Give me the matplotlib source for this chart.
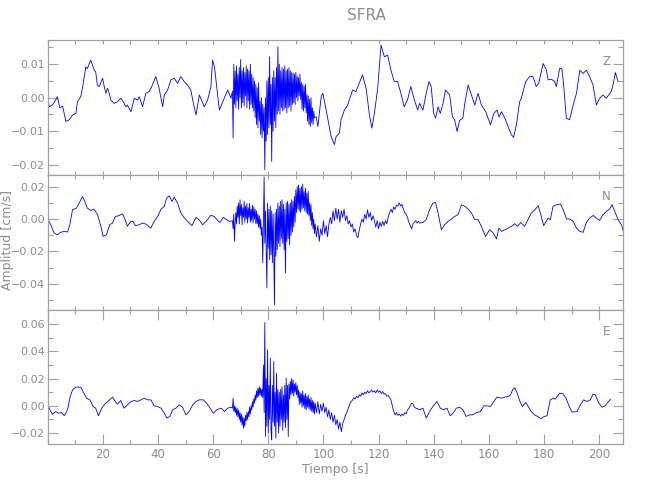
import numpy as np
import matplotlib
matplotlib.use("Agg")
from matplotlib import pyplot as plt
from matplotlib.ticker import MultipleLocator, FuncFormatter

# ---- Z component (cm/s) ----
z_pre_t = [0.0, 0.5, 1.7, 2.9, 3.5, 4.4, 5.4, 6.6, 7.8, 9.0, 10.2, 10.8, 12.0, 12.6, 13.8, 14.4,
           15.6, 16.9, 17.4, 18.0, 18.7, 19.9, 20.5, 21.1, 21.7, 22.3, 22.9, 24.1, 25.3, 26.5,
           27.4, 28.3, 28.9, 30.2, 31.4, 32.6, 33.2, 34.4, 35.6, 36.8, 38.0, 39.2, 40.4, 41.7,
           42.3, 43.5, 44.7, 45.9, 47.1, 48.3, 49.5, 50.7, 51.9, 52.6, 53.8, 55.0, 56.8, 58.0,
           59.2, 59.8, 60.5, 61.7, 62.3, 63.5, 65.3, 66.5]
z_pre = [0.0003, -0.0027, -0.0022, -0.0007, 0.0003, -0.0030, -0.0025, -0.0071, -0.0066, -0.0052,
         -0.0047, -0.0012, 0.0003, 0.0028, 0.0092, 0.0087, 0.0112, 0.0082, 0.0077, 0.0038, 0.0033,
         0.0058, 0.0033, 0.0013, 0.0028, 0.0013, -0.0007, -0.0017, -0.0012, -0.0002, -0.0012,
         -0.0027, -0.0022, -0.0042, -0.0002, -0.0007, 0.0003, -0.0027, 0.0013, 0.0018, 0.0038,
         0.0063, 0.0028, -0.0027, 0.0008, 0.0023, 0.0053, 0.0058, 0.0043, 0.0063, 0.0048, 0.0038,
         0.0023, -0.0007, -0.0052, 0.0008, -0.0027, -0.0007, 0.0033, 0.0112, 0.0092, 0.0003,
         -0.0037, -0.0012, 0.0023, -0.0002]
# strong motion, sampled every 0.25 s from 67 s
z_burst = [0.0020, -0.0120, 0.0100, -0.0020, 0.0080, -0.0030, 0.0095, -0.0010,
           0.0070, -0.0035, 0.0090, 0.0000, 0.0114, -0.0030, 0.0080, -0.0015,
           0.0090, -0.0025, 0.0075, 0.0005, 0.0095, -0.0030, 0.0085, -0.0010,
           0.0080, -0.0035, 0.0100, -0.0020, 0.0070, -0.0030, 0.0060, -0.0040,
           0.0050, -0.0060, 0.0040, -0.0080, 0.0030, -0.0090, 0.0045, -0.0070,
           -0.0010, -0.0110, 0.0000, -0.0120, -0.0020, -0.0100, -0.0030, -0.0215,
           0.0000, -0.0130, 0.0050, -0.0110, 0.0060, -0.0090, 0.0122, -0.0080,
           0.0040, -0.0190, 0.0060, -0.0100, 0.0080, -0.0070, 0.0060, -0.0090,
           0.0090, -0.0050, 0.0152, -0.0040, 0.0100, -0.0050, 0.0080, -0.0030,
           0.0090, -0.0040, 0.0085, -0.0035, 0.0095, -0.0030, 0.0080, -0.0045,
           0.0085, -0.0030, 0.0090, -0.0025, 0.0080, -0.0040, 0.0075, -0.0020,
           0.0073, -0.0015, 0.0070, -0.0020, 0.0075, 0.0000, 0.0065, -0.0010,
           0.0060, 0.0005, 0.0070, -0.0005, 0.0045, -0.0035, 0.0040, -0.0040,
           0.0035, -0.0030, 0.0040, -0.0045, 0.0010, -0.0070, 0.0005, -0.0080,
           -0.0005, -0.0086, 0.0000, -0.0075, -0.0030, -0.0080, -0.0040, -0.0060]
z_post_t = [97.4, 98.0, 99.2, 99.8, 101.0, 102.8, 104.0, 104.6, 105.8, 106.4, 107.6, 108.8, 110.6,
            111.8, 113.0, 114.2, 115.5, 116.7, 117.6, 118.5, 119.7, 120.9, 122.1, 123.3, 124.5,
            125.7, 126.9, 128.1, 129.3, 130.5, 131.7, 133.0, 134.2, 134.9, 136.1, 137.3, 138.3,
            139.1, 140.0, 140.7, 141.6, 142.4, 143.4, 144.3, 145.8, 146.8, 147.6, 148.5, 149.4,
            150.6, 151.2, 152.5, 153.7, 154.9, 156.1, 157.3, 158.9, 160.6, 161.8, 163.0, 163.7,
            164.6, 165.8, 167.0, 168.2, 169.0, 170.0, 171.2, 171.8, 173.4, 174.8, 176.0, 177.2,
            178.1, 179.7, 180.9, 181.5, 182.7, 183.9, 184.5, 185.7, 186.5, 187.2, 188.1, 189.3,
            190.6, 191.8, 193.0, 194.2, 195.4, 196.6, 197.8, 199.0, 200.2, 201.4, 202.6, 204.4,
            205.2, 205.9, 206.9]
z_post = [-0.0057, -0.0086, 0.0003, 0.0013, -0.0037, -0.0116, -0.0140, -0.0116, -0.0106, -0.0066,
          -0.0037, -0.0022, 0.0023, 0.0018, 0.0043, 0.0068, 0.0028, -0.0052, -0.0091, -0.0047,
          0.0028, 0.0157, 0.0122, 0.0127, 0.0082, 0.0048, 0.0048, 0.0013, -0.0027, -0.0007,
          0.0033, -0.0007, -0.0037, -0.0017, -0.0037, 0.0013, 0.0048, 0.0033, -0.0047, -0.0061,
          -0.0027, -0.0047, -0.0017, 0.0023, 0.0008, -0.0057, -0.0066, -0.0101, -0.0068, -0.0061,
          -0.0022, 0.0038, 0.0008, -0.0022, 0.0013, -0.0022, -0.0042, -0.0081, -0.0047, -0.0037,
          -0.0058, -0.0042, -0.0061, -0.0086, -0.0111, -0.0118, -0.0081, -0.0012, -0.0002, 0.0048,
          0.0063, 0.0063, 0.0033, 0.0043, 0.0102, 0.0082, 0.0053, 0.0055, 0.0048, 0.0033, 0.0087,
          0.0087, 0.0033, -0.0061, -0.0066, -0.0022, 0.0013, 0.0082, 0.0072, 0.0082, 0.0062,
          0.0038, -0.0022, -0.0002, 0.0008, -0.0002, 0.0018, 0.0043, 0.0075, 0.0048]

# ---- N component ----
n_pre_t = [0.0, 1.1, 2.3, 3.5, 4.7, 6.0, 7.2, 8.0, 9.0, 10.4, 11.4, 12.6, 13.2, 14.4, 15.6, 16.8,
           18.1, 19.3, 20.1, 21.3, 22.5, 23.5, 24.5, 25.7, 27.1, 28.1, 28.9, 30.1, 30.9, 31.8,
           33.2, 34.4, 35.6, 37.4, 38.6, 39.9, 41.1, 42.3, 43.1, 44.1, 45.1, 45.9, 47.1, 48.3,
           49.6, 50.8, 52.3, 53.8, 55.0, 56.2, 57.4, 59.2, 60.4, 61.7, 62.5, 63.7, 64.9, 66.0]
n_pre = [0.0000, -0.0035, -0.0086, -0.0097, -0.0082, -0.0076, -0.0080, -0.0035, 0.0057, 0.0067,
         0.0098, 0.0139, 0.0119, 0.0067, 0.0053, 0.0061, 0.0026, -0.0045, -0.0107, -0.0097,
         -0.0035, -0.0025, 0.0016, 0.0020, 0.0032, -0.0004, -0.0045, -0.0015, -0.0015, -0.0041,
         -0.0035, -0.0025, -0.0031, -0.0056, -0.0015, 0.0016, 0.0061, 0.0078, 0.0129, 0.0143,
         0.0108, 0.0135, 0.0098, 0.0037, 0.0006, -0.0015, -0.0041, 0.0010, -0.0006, -0.0035,
         -0.0015, 0.0023, 0.0016, -0.0010, -0.0021, 0.0010, -0.0004, -0.0015]
n_burst = [-0.0010, -0.0060, 0.0030, -0.0138, -0.0020, 0.0040, -0.0030, 0.0080,
           0.0010, 0.0100, -0.0030, 0.0119, 0.0020, 0.0090, -0.0035, 0.0070,
           0.0010, 0.0110, -0.0020, 0.0080, 0.0000, 0.0095, -0.0025, 0.0070,
           0.0010, 0.0098, -0.0020, 0.0060, -0.0010, 0.0085, -0.0025, 0.0075,
           0.0000, 0.0060, -0.0030, 0.0050, -0.0030, 0.0030, -0.0050, 0.0020,
           -0.0060, 0.0000, -0.0100, -0.0050, -0.0270, -0.0020, 0.0260, -0.0150,
           0.0050, -0.0200, -0.0425, 0.0098, -0.0180, 0.0060, -0.0250, 0.0080,
           -0.0220, 0.0050, -0.0270, 0.0030, -0.0200, -0.0528, 0.0040, -0.0230,
           0.0060, -0.0190, 0.0098, -0.0150, 0.0080, -0.0170, 0.0110, -0.0120,
           0.0119, -0.0150, 0.0090, -0.0190, 0.0060, -0.0333, 0.0100, -0.0140,
           0.0110, -0.0120, 0.0090, -0.0160, 0.0100, -0.0100, 0.0119, -0.0080,
           0.0110, -0.0050, 0.0140, -0.0020, 0.0180, 0.0040, 0.0200, 0.0060,
           0.0210, 0.0050, 0.0190, 0.0040, 0.0200, 0.0060, 0.0215, 0.0070,
           0.0170, 0.0050, 0.0190, 0.0040, 0.0160, 0.0030, 0.0170, 0.0020,
           0.0100, -0.0010, 0.0090, -0.0040, 0.0040, -0.0060, 0.0000, -0.0090]
n_post_t = [97.0, 97.5, 98.0, 98.5, 99.0, 99.5, 100.0, 100.5, 101.0, 101.5, 102.0, 102.5, 103.0,
            103.5, 104.0, 104.5, 105.0, 105.5, 106.0, 106.5, 107.0, 107.5, 108.0, 108.5, 109.0,
            109.5, 110.0, 110.5, 111.0, 111.5, 112.0, 112.5, 113.0, 113.5, 114.0, 114.5, 115.0,
            115.5, 116.0, 116.5, 117.0, 117.5, 118.0, 118.5, 119.0, 119.5, 120.0, 120.5, 121.0,
            121.5, 122.0, 122.5, 123.0, 123.5, 124.0, 124.5, 125.0, 125.5, 126.0, 126.5, 127.0,
            127.5, 128.0, 128.5, 129.0, 129.5, 130.0, 130.5, 131.0, 131.5, 132.0, 132.5, 133.0,
            133.5, 134.0, 134.5,
            134.9, 136.1, 137.3, 138.5, 139.7, 140.7, 141.6, 142.8, 144.0, 145.2, 146.4, 147.6,
            148.8, 150.1, 151.3, 152.5, 153.7, 154.9, 156.1, 157.3, 158.8, 160.3, 161.6, 162.8,
            163.6, 164.6, 165.8, 167.0, 168.2, 169.4, 170.4, 171.6, 173.0, 174.2, 175.4, 176.7,
            177.9, 178.7, 179.9, 181.5, 182.3, 183.3, 184.5, 186.0, 187.0, 188.2, 189.4, 190.6,
            191.8, 193.0, 194.2, 195.4, 196.6, 197.9, 199.0, 200.2, 201.4, 202.6, 203.8, 204.7,
            205.7, 206.9, 208.1, 208.9]
n_post = [-0.0030, -0.0110, -0.0040, -0.0138, -0.0060, -0.0100, -0.0010, -0.0090, -0.0040,
          -0.0110, -0.0030, 0.0010, -0.0030, 0.0050, -0.0010, 0.0067, 0.0000, 0.0060, -0.0020,
          0.0050, 0.0010, 0.0060, -0.0010, 0.0020, -0.0030, -0.0010, -0.0050, -0.0030, -0.0080,
          -0.0060, -0.0100, -0.0115, -0.0070, -0.0030, 0.0000, -0.0020, 0.0030, 0.0000, 0.0057,
          0.0010, 0.0040, -0.0010, 0.0020, -0.0010, -0.0050, -0.0010, -0.0060, -0.0020, -0.0045,
          -0.0015, -0.0040, -0.0010, -0.0030, 0.0010, 0.0040, 0.0060, 0.0040, 0.0075, 0.0060,
          0.0085, 0.0080, 0.0100, 0.0080, 0.0090, 0.0060, 0.0040, 0.0030, 0.0010, -0.0020,
          -0.0040, -0.0060, -0.0030, -0.0020, -0.0010, -0.0025, -0.0015,
          -0.0025, -0.0021, -0.0004, 0.0057, 0.0098, 0.0102, 0.0037, -0.0066, -0.0035, -0.0015,
          0.0000, 0.0016, 0.0026, 0.0088, 0.0078, 0.0061, 0.0037, -0.0004, -0.0004, -0.0045,
          -0.0107, -0.0066, -0.0086, -0.0123, -0.0056, -0.0076, -0.0066, -0.0056, -0.0045,
          -0.0029, -0.0045, -0.0021, -0.0045, -0.0004, 0.0037, 0.0057, 0.0082, 0.0037, -0.0041,
          0.0006, -0.0004, 0.0078, 0.0088, 0.0092, 0.0057, 0.0000, 0.0000, -0.0015, -0.0056,
          -0.0076, -0.0082, -0.0021, 0.0006, 0.0022, 0.0006, -0.0008, 0.0026, 0.0047, 0.0061,
          0.0088, 0.0047, -0.0004, -0.0035, -0.0082]

# ---- E component ----
e_pre_t = [0.0, 0.8, 1.7, 2.9, 3.9, 5.0, 6.0, 7.2, 8.0, 9.0, 10.2, 12.0, 12.8, 14.1, 15.3, 16.5,
           17.4, 18.4, 19.6, 20.8, 22.1, 23.5, 24.5, 25.3, 26.5, 27.7, 28.9, 30.2, 31.4, 32.6,
           33.8, 35.0, 36.2, 37.4, 38.6, 39.8, 41.1, 42.3, 43.2, 44.3, 45.3, 46.5, 47.7, 48.9,
           50.1, 51.3, 52.6, 53.8, 55.0, 56.4, 57.6, 58.9, 60.1, 61.3, 62.9, 64.1, 65.3, 66.5]
e_pre = [0.0007, -0.0029, -0.0061, -0.0042, -0.0054, -0.0049, -0.0073, -0.0029, 0.0056, 0.0117,
         0.0137, 0.0137, 0.0105, 0.0056, 0.0044, -0.0005, -0.0017, -0.0073, -0.0017, 0.0015,
         0.0037, 0.0064, 0.0032, 0.0012, 0.0039, -0.0017, 0.0007, 0.0032, 0.0039, 0.0032,
         0.0044, 0.0056, 0.0044, 0.0044, 0.0000, -0.0005, -0.0017, -0.0054, -0.0090, -0.0078,
         -0.0029, -0.0017, 0.0007, -0.0010, -0.0066, -0.0042, 0.0007, 0.0032, 0.0044, 0.0044,
         0.0020, -0.0017, -0.0054, -0.0029, -0.0017, -0.0042, -0.0017, -0.0010]
e_burst = [-0.0017, 0.0056, -0.0040, 0.0000, -0.0050, -0.0010, -0.0070, -0.0020,
           -0.0080, -0.0030, -0.0100, -0.0050, -0.0120, -0.0060, -0.0140, -0.0080,
           -0.0164, -0.0090, -0.0150, -0.0070, -0.0110, -0.0050, -0.0100, -0.0040,
           -0.0080, -0.0010, -0.0060, 0.0000, -0.0030, 0.0030, -0.0010, 0.0050,
           0.0020, 0.0080, 0.0040, 0.0110, 0.0060, 0.0130, 0.0070, 0.0140,
           0.0080, 0.0130, 0.0070, 0.0120, 0.0060, 0.0300, -0.0050, 0.0611,
           -0.0225, 0.0200, -0.0150, 0.0410, -0.0200, 0.0150, -0.0100, 0.0350,
           -0.0180, -0.0250, 0.0150, -0.0120, 0.0325, -0.0150, 0.0100, -0.0237,
           0.0240, -0.0120, 0.0120, -0.0200, 0.0100, -0.0150, 0.0120, -0.0100,
           0.0140, -0.0180, 0.0080, -0.0120, 0.0150, -0.0160, 0.0203, -0.0100,
           0.0150, -0.0225, 0.0160, 0.0050, 0.0180, 0.0080, 0.0200, 0.0090,
           0.0190, 0.0070, 0.0160, 0.0100, 0.0170, 0.0080, 0.0150, 0.0060,
           0.0117, 0.0010, 0.0100, 0.0020, 0.0090, -0.0010, 0.0110, 0.0000,
           0.0080, -0.0020, 0.0090, -0.0030, 0.0070, -0.0010, 0.0080, -0.0020,
           0.0050, -0.0030, 0.0060, -0.0040, 0.0040, -0.0050, 0.0030, -0.0060]
e_post_t = [97.0, 97.5, 98.0, 98.5, 99.0, 99.5, 100.0, 100.5, 101.0, 101.5, 102.0, 102.5, 103.0,
            103.5, 104.0, 104.5, 105.0, 105.5, 106.0, 106.5, 107.0, 107.5, 108.0, 108.5, 109.0,
            109.5, 110.0, 110.5, 111.0, 111.5, 112.0, 112.5, 113.0, 113.5, 114.0, 114.5, 115.0,
            115.5, 116.0, 116.5, 117.0, 117.5, 118.0, 118.5, 119.0, 119.5, 120.0, 120.5, 121.0,
            121.5, 122.0, 122.5, 123.0, 123.5, 124.0, 124.5, 125.0, 125.5, 126.0, 126.5, 127.0,
            127.5, 128.0, 128.5, 129.0, 129.5, 130.0, 130.5, 131.0, 131.5, 132.0, 132.5, 133.0,
            133.5, 134.0, 134.5,
            134.9, 136.1, 137.3, 138.5, 139.7, 141.2, 142.4, 143.6, 144.8, 146.0, 147.0, 148.2,
            149.4, 150.6, 151.8, 153.0, 154.2, 155.6, 157.0, 158.2, 159.2, 160.6, 161.8, 163.0,
            164.6, 165.8, 167.0, 167.9, 168.6, 169.4, 170.3, 171.3, 172.2, 173.4, 174.3, 175.4,
            176.6, 178.1, 178.9, 180.1, 181.1, 182.3, 183.3, 184.1, 185.7, 186.9, 188.0, 189.2,
            190.2, 192.0, 193.2, 194.4, 195.6, 196.8, 197.8, 198.6, 199.8, 201.0, 202.2, 203.1,
            204.1]
e_post = [0.0020, -0.0050, 0.0030, -0.0060, 0.0010, -0.0040, 0.0020, -0.0050, -0.0010, -0.0080,
          -0.0030, -0.0100, -0.0050, -0.0120, -0.0070, -0.0140, -0.0100, -0.0170, -0.0120,
          -0.0190, -0.0130, -0.0100, -0.0070, -0.0050, -0.0020, 0.0010, 0.0030, 0.0040, 0.0060,
          0.0050, 0.0070, 0.0060, 0.0080, 0.0070, 0.0095, 0.0080, 0.0100, 0.0090, 0.0110, 0.0095,
          0.0105, 0.0115, 0.0100, 0.0110, 0.0095, 0.0115, 0.0100, 0.0110, 0.0090, 0.0105, 0.0085,
          0.0090, 0.0070, 0.0075, 0.0060, 0.0044, 0.0000, -0.0040, -0.0066, -0.0050, -0.0070,
          -0.0060, -0.0075, -0.0060, -0.0070, -0.0050, -0.0060, -0.0030, -0.0020, 0.0000, 0.0020,
          0.0015, -0.0010, -0.0017, -0.0020, -0.0025,
          -0.0029, -0.0017, -0.0090, -0.0042, -0.0005, 0.0032, -0.0017, -0.0029, -0.0017, -0.0073,
          -0.0054, -0.0017, -0.0010, -0.0029, -0.0078, -0.0066, -0.0066, -0.0049, -0.0042, 0.0000,
          0.0000, -0.0005, 0.0032, 0.0064, 0.0056, 0.0064, 0.0068, 0.0081, 0.0117, 0.0134, 0.0093,
          0.0032, -0.0005, 0.0024, -0.0005, -0.0042, -0.0066, -0.0083, -0.0095, -0.0078, -0.0073,
          0.0044, 0.0056, 0.0049, 0.0093, 0.0088, 0.0056, -0.0005, -0.0046, -0.0042, 0.0007,
          0.0044, 0.0032, 0.0044, 0.0086, 0.0081, 0.0024, -0.0010, 0.0000, 0.0024, 0.0049]

burst_start = 67.0
burst_step = 0.25

components = ["Z", "N", "E"]
ylims = [(-0.0230, 0.0172), (-0.0558, 0.0273), (-0.0282, 0.0706)]
ysteps = [0.01, 0.02, 0.02]

gray = "#8c8c8c"
axis_gray = "#a0a0a0"


def build_trace(pre_t, pre, burst, post_t, post):
    burst_t = burst_start + burst_step * np.arange(len(burst))
    t = np.concatenate([pre_t, burst_t, post_t])
    v = np.concatenate([pre, burst, post])
    order = np.argsort(t, kind="stable")
    return t[order], v[order]


def fmt_amp(val, pos):
    if abs(val) < 1e-9:
        return "0.00"
    return ("%.2f" % val).replace("-", "\u2212")


def fmt_time(val, pos):
    # the first tick (0) carries no label
    if abs(val) < 1e-9:
        return ""
    return "%d" % round(val)


traces = [
    build_trace(z_pre_t, z_pre, z_burst, z_post_t, z_post),
    build_trace(n_pre_t, n_pre, n_burst, n_post_t, n_post),
    build_trace(e_pre_t, e_pre, e_burst, e_post_t, e_post),
]

fig, axes = plt.subplots(3, 1, sharex=True, figsize=(6.5, 5.0), dpi=100)
fig.subplots_adjust(left=0.0734, right=0.959, top=0.92, bottom=0.1114, hspace=0)

for i, ax in enumerate(axes):
    t, v = traces[i]
    ax.plot(t, v, color="#0000ff", lw=0.6)
    ax.set_xlim(0, 208.8)
    ax.set_ylim(*ylims[i])

    ax.xaxis.set_major_locator(MultipleLocator(20))
    ax.xaxis.set_minor_locator(MultipleLocator(10))
    ax.xaxis.set_major_formatter(FuncFormatter(fmt_time))
    ax.yaxis.set_major_locator(MultipleLocator(ysteps[i]))
    ax.yaxis.set_minor_locator(MultipleLocator(ysteps[i] / 2))
    ax.yaxis.set_major_formatter(FuncFormatter(fmt_amp))

    for s in ax.spines.values():
        s.set_color(axis_gray)
        s.set_linewidth(0.9)
    ax.tick_params(which="both", direction="in", top=True, right=True,
                   color=axis_gray, labelcolor=gray, labelsize=8)
    ax.tick_params(axis="y", which="major", length=7, width=0.8, pad=2)
    ax.tick_params(axis="y", which="minor", length=3.5, width=0.8)
    ax.tick_params(axis="x", which="both", length=3, width=0.8)
    ax.tick_params(axis="x", pad=3)

    ax.text(0.97, 0.84, components[i], transform=ax.transAxes, color=gray,
            fontsize=8.5, ha="center", va="center")

axes[-1].tick_params(axis="x", which="major", length=7, labelsize=8.5)

fig.text(0.563, 0.97, "SFRA", color=gray, fontsize=11, ha="center", va="center")
fig.text(0.516, 0.062, "Tiempo [s]", color=gray, fontsize=9, ha="center", va="center")
fig.text(0.011, 0.52, "Amplitud [cm/s]", color=gray, fontsize=9, ha="center", va="center",
         rotation=90)

fig.savefig("out.png", dpi=100)
plt.close()
